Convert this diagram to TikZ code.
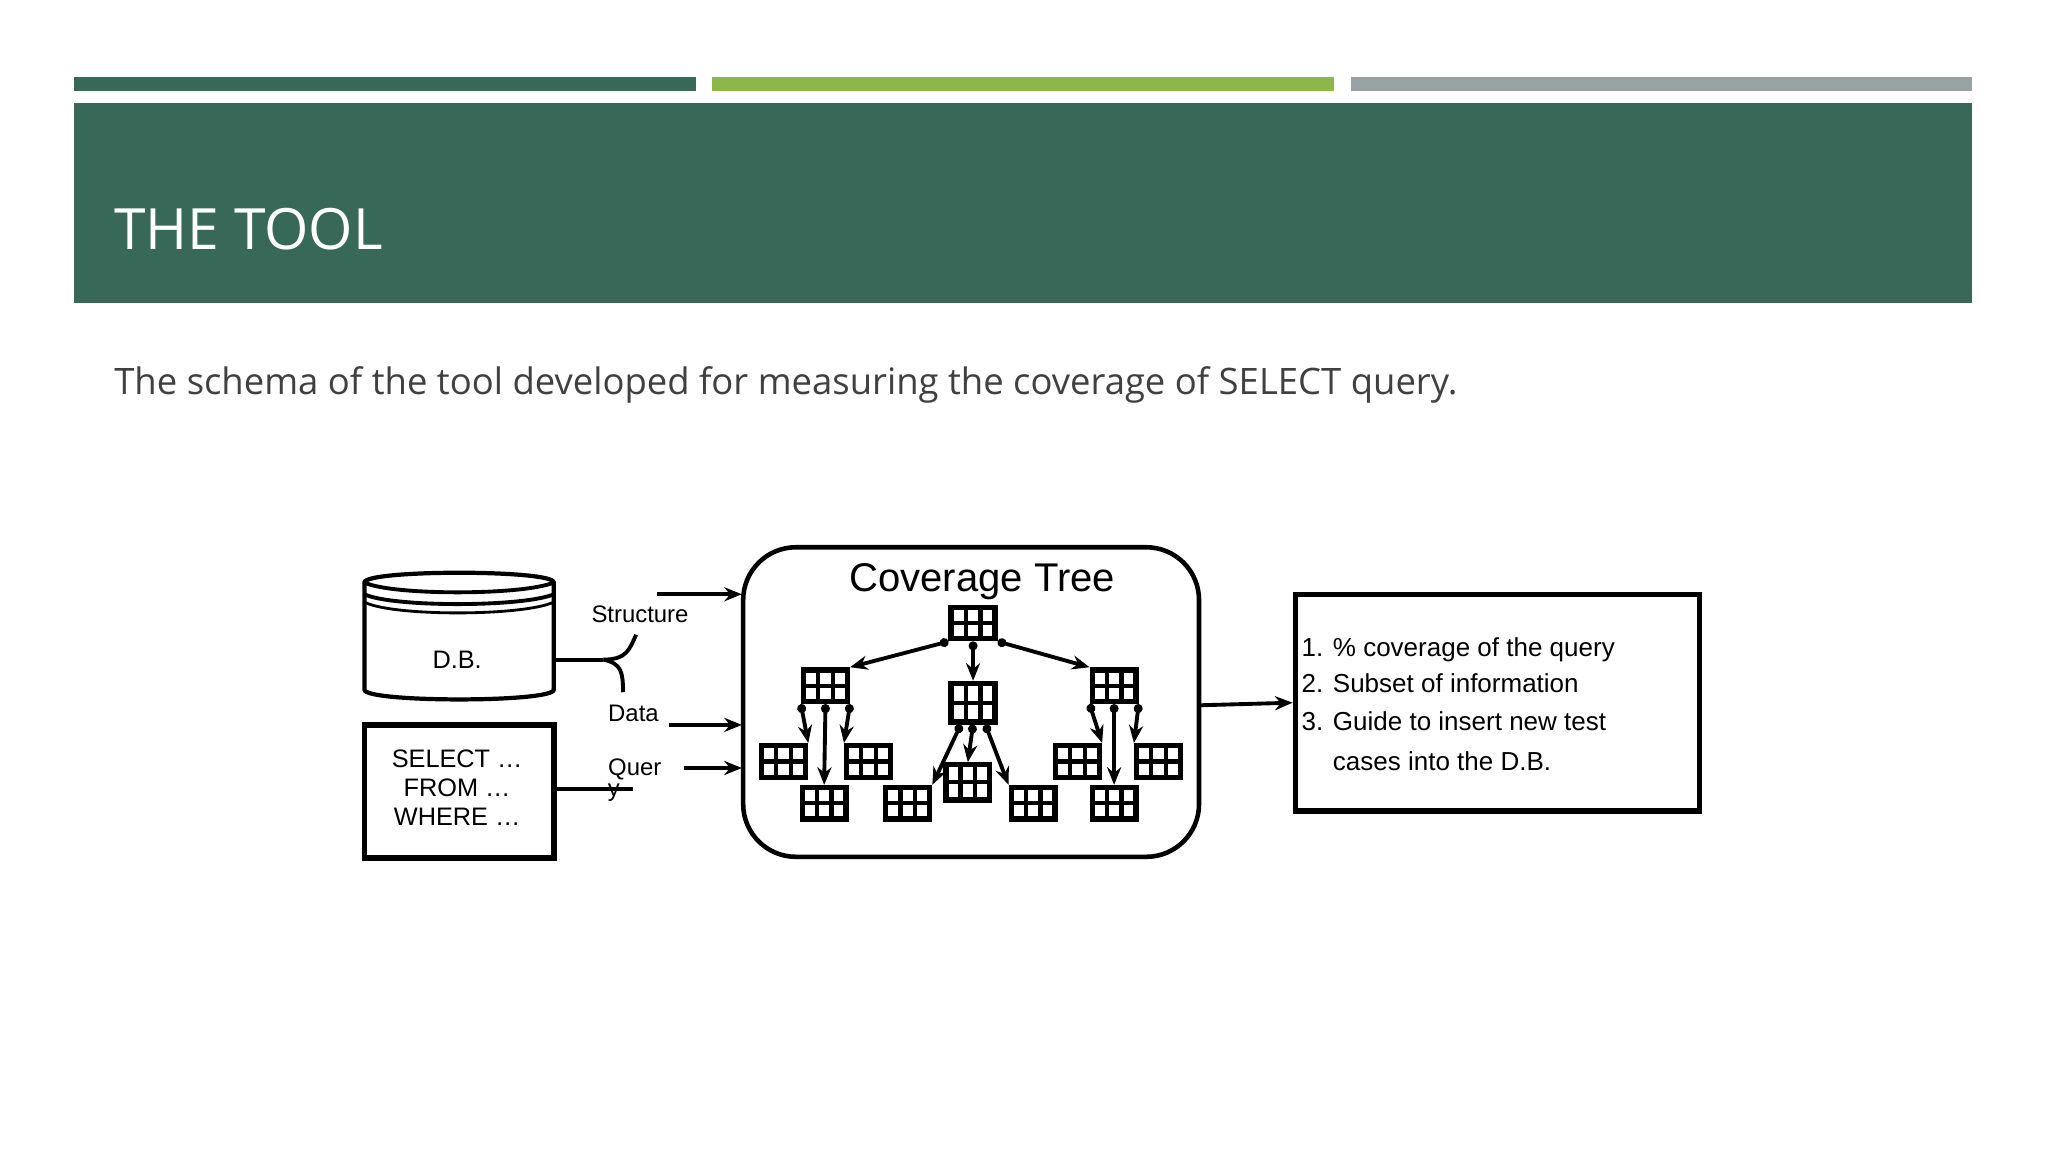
\documentclass[tikz,border=0pt]{standalone}
\usepackage{fontspec}
\setmainfont{Open Sans}
\newfontfamily\arialf{Liberation Sans}
\usetikzlibrary{arrows.meta,calc}
\definecolor{dkgreen}{HTML}{386857}
\definecolor{ltgreen}{HTML}{8DB849}
\definecolor{bargray}{HTML}{98A2A5}
\definecolor{txtgray}{HTML}{404040}
\begin{document}
\begin{tikzpicture}[x=0.013061cm,y=-0.013061cm,
  lbl/.style={font=\arialf\fontsize{6.8pt}{8pt}\selectfont,inner sep=0pt},
  fl/.style={line width=1.1pt,-{Stealth[length=5pt,width=4pt]}},
  tbl/.style={draw,line width=1.5pt,minimum width=12.5pt,minimum height=9pt,inner sep=0pt,
    path picture={
      \draw[line width=1.2pt] ($(path picture bounding box.south west)!0.333!(path picture bounding box.south east)$) -- ($(path picture bounding box.north west)!0.333!(path picture bounding box.north east)$);
      \draw[line width=1.2pt] ($(path picture bounding box.south west)!0.667!(path picture bounding box.south east)$) -- ($(path picture bounding box.north west)!0.667!(path picture bounding box.north east)$);
      \draw[line width=1.2pt] ($(path picture bounding box.south west)!0.5!(path picture bounding box.north west)$) -- ($(path picture bounding box.south east)!0.5!(path picture bounding box.north east)$);
    }},
  te/.style={line width=1.1pt,{Circle[length=2.5pt]}-{Stealth[length=5pt,width=4pt]}}]
\useasboundingbox (0,0) rectangle (1568,882);
\fill[white] (0,0) rectangle (1568,882);
% top bars
\fill[dkgreen] (57,59) rectangle (533,70);
\fill[ltgreen] (545,59) rectangle (1021,70);
\fill[bargray] (1034,59) rectangle (1510,70);
\fill[dkgreen] (57,79) rectangle (1510,232);
\node[anchor=base west,text=white,font=\fontsize{16.2pt}{19pt}\selectfont,inner sep=0pt] (title) at (87,191) {THE TOOL};
\node[anchor=base west,text=txtgray,font=\fontsize{10.37pt}{12pt}\selectfont,inner sep=0pt] (sub) at (87,302) {The schema of the tool developed for measuring the coverage of SELECT query.};
% DB cylinder
\draw[line width=1.2pt] (279,446) .. controls (279,436) and (424,436) .. (424,446) -- (424,528) .. controls (424,538) and (279,538) .. (279,528) -- cycle;
\draw[line width=1.1pt] (279,446) .. controls (300,456) and (400,456) .. (424,446);
\draw[line width=1.1pt] (279,455) .. controls (300,465) and (400,465) .. (424,455);
\draw[line width=0.8pt] (279,461) .. controls (300,472) and (400,472) .. (424,461);
\node[lbl,font=\arialf\fontsize{7.2pt}{9pt}\selectfont] (db) at (350,505) {D.B.};
\coordinate (dbr) at (424,505);
% SQL box
\node[draw,line width=1.6pt,minimum width=53.9pt,minimum height=37.9pt,inner sep=0pt] (sql) at (351.5,606) {};
\node[inner sep=0pt,align=center,font=\arialf\fontsize{7.2pt}{8.2pt}\selectfont] (sqltext) at (350,603) {SELECT \dots\\FROM \dots\\WHERE \dots};
% labels
\node[lbl] (structure) at (490,470) {Structure};
\node[lbl] (data) at (485,546) {Data};
\node[lbl] (quer) at (486,589) {Quer};
\node[lbl] (qy) at (470,607) {y};
% brace
\coordinate (bj) at (462,505);
\coordinate (bu) at (487,486);
\coordinate (bd) at (477,530);
\draw[line width=1.1pt] (dbr) -- (bj);
\draw[line width=1.1pt] (bj) .. controls (480,505) and (482,497) .. (bu);
\draw[line width=1.1pt] (bj) .. controls (476,508) and (477,515) .. (bd);
\coordinate (qe) at (485,604);
\draw[line width=1.1pt] (sql.east |- qe) -- (qe);
% coverage box
\draw[line width=1.3pt,rounded corners=15pt] (569,419) rectangle (918,656);
\node[font=\arialf\fontsize{11.4pt}{13pt}\selectfont,inner sep=0pt] (ctitle) at (752,445) {Coverage Tree};
\coordinate (a1s) at (503,455); \coordinate (a1e) at (568,455);
\coordinate (a2s) at (512,555); \coordinate (a2e) at (568,555);
\coordinate (a3s) at (524,588); \coordinate (a3e) at (568,588);
\draw[fl] (a1s) -- (a1e);
\draw[fl] (a2s) -- (a2e);
\draw[fl] (a3s) -- (a3e);
% tree
\node[tbl] (r) at (745,477) {};
\node[tbl] (l) at (632,525) {};
\node[tbl,minimum height=11pt] (m) at (745,538) {};
\node[tbl] (rr) at (853,525) {};
\node[tbl] (l1) at (600,583) {};
\node[tbl] (l2) at (665,583) {};
\node[tbl] (l3) at (631,615) {};
\node[tbl] (m1) at (695,615) {};
\node[tbl,minimum height=10pt] (m2) at (741,599) {};
\node[tbl] (m3) at (791,615) {};
\node[tbl] (r1) at (825,583) {};
\node[tbl] (r2) at (887,583) {};
\node[tbl] (r3) at (853,615) {};
\draw[te] (r.south west) -- (l.north east);
\draw[te] (r.south) -- (m.north);
\draw[te] (r.south east) -- (rr.north west);
\draw[te] (l.south west) -- (l1.north east);
\draw[te] (l.south) -- (l3.north);
\draw[te] (l.south east) -- (l2.north west);
\draw[te] ($(m.south west)!0.25!(m.south east)$) -- (m1.north east);
\draw[te] (m.south) -- (m2.north);
\draw[te] ($(m.south west)!0.75!(m.south east)$) -- (m3.north west);
\draw[te] (rr.south west) -- (r1.north east);
\draw[te] (rr.south) -- (r3.north);
\draw[te] (rr.south east) -- (r2.north west);
% result
\node[draw,line width=1.6pt,minimum width=115pt,minimum height=61.5pt,inner sep=0pt] (res) at (1146.5,538) {};
\draw[fl] (918,540) -- (res.west);
\node[lbl,anchor=base west,font=\arialf\fontsize{7.4pt}{9pt}\selectfont] (t1) at (996,503) {1. \% coverage of the query};
\node[lbl,anchor=base west,font=\arialf\fontsize{7.4pt}{9pt}\selectfont] (t2) at (996,530) {2. Subset of information};
\node[lbl,anchor=base west,font=\arialf\fontsize{7.4pt}{9pt}\selectfont] (t3) at (996,559) {3. Guide to insert new test};
\node[lbl,anchor=base west,font=\arialf\fontsize{7.4pt}{9pt}\selectfont] (t4) at (1020,590) {cases into the D.B.};
\end{tikzpicture}
\end{document}
